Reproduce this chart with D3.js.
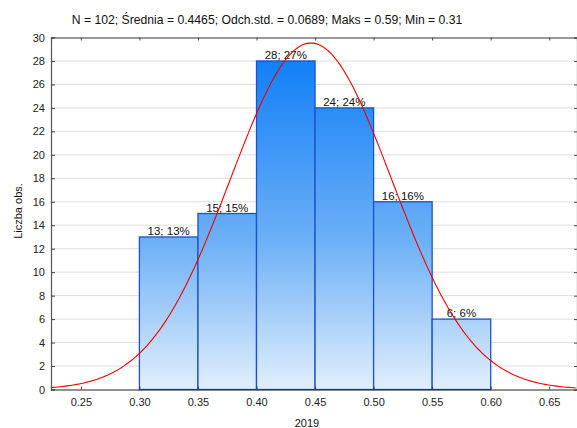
<!DOCTYPE html>
<html>
<head>
<meta charset="utf-8">
<script src="https://cdn.jsdelivr.net/npm/d3@7"></script>
<style>
  body { margin: 0; background: #fff; }
  svg { display: block; font-family: Arial, "Liberation Sans", sans-serif; }
</style>
</head>
<body>
<script>
// histogram data
const binStarts = [0.30, 0.35, 0.40, 0.45, 0.50, 0.55];
const binWidth = 0.05;
const counts = [13, 15, 28, 24, 16, 6];
const percents = [13, 15, 27, 24, 16, 6];
const xTicks = [0.25, 0.30, 0.35, 0.40, 0.45, 0.50, 0.55, 0.60, 0.65];
const yTicks = [0, 2, 4, 6, 8, 10, 12, 14, 16, 18, 20, 22, 24, 26, 28, 30];

// summary stats from the title, used for the fitted normal curve
const N = 102;
const mean = 0.4465;
const sd = 0.0689;

const svgWidth = 577;
const svgHeight = 428;
const margin = { left: 51, right: 0, top: 37.5, bottom: 38.5 };

const svg = d3.select('body').append('svg')
  .attr('width', svgWidth)
  .attr('height', svgHeight);

const x = d3.scaleLinear().domain([0.2245, 0.6737]).range([margin.left, svgWidth - margin.right]);
const y = d3.scaleLinear().domain([0, 30]).range([svgHeight - margin.bottom, margin.top]);

// gradient spans the whole plot height so shorter bars are lighter
const defs = svg.append('defs');
const grad = defs.append('linearGradient')
  .attr('id', 'barGrad')
  .attr('gradientUnits', 'userSpaceOnUse')
  .attr('x1', 0).attr('x2', 0)
  .attr('y1', y(28)).attr('y2', y(0));
grad.append('stop').attr('offset', '0%').attr('stop-color', '#1280f7');
grad.append('stop').attr('offset', '55%').attr('stop-color', '#6db0f6');
grad.append('stop').attr('offset', '100%').attr('stop-color', '#e2effd');

const clip = defs.append('clipPath').attr('id', 'plotClip');
clip.append('rect')
  .attr('x', margin.left).attr('y', margin.top)
  .attr('width', svgWidth - margin.left - margin.right)
  .attr('height', y(0) - margin.top);

// gridlines
svg.append('g')
  .selectAll('line')
  .data(yTicks.filter((d) => d > 0 && d < 30))
  .enter().append('line')
  .attr('x1', margin.left).attr('x2', svgWidth - 3)
  .attr('y1', (d) => y(d)).attr('y2', (d) => y(d))
  .attr('stroke', '#dedede')
  .attr('stroke-width', 1);

// bars
const bars = binStarts.map((b, i) => ({ x0: b, x1: b + binWidth, count: counts[i], pct: percents[i] }));

svg.append('g')
  .selectAll('rect')
  .data(bars)
  .enter().append('rect')
  .attr('x', (d) => x(d.x0))
  .attr('y', (d) => y(d.count))
  .attr('width', (d) => x(d.x1) - x(d.x0))
  .attr('height', (d) => y(0) - y(d.count))
  .attr('fill', 'url(#barGrad)')
  .attr('stroke', '#1d52c9')
  .attr('stroke-width', 1.3);

// bar labels
svg.append('g')
  .selectAll('text')
  .data(bars)
  .enter().append('text')
  .attr('x', (d) => (x(d.x0) + x(d.x1)) / 2)
  .attr('y', (d) => y(d.count) - 2)
  .attr('text-anchor', 'middle')
  .attr('font-size', 11.5)
  .attr('fill', '#111')
  .text((d) => `${d.count}; ${d.pct}%`);

// fitted normal curve
const curveX = d3.range(0.2245, 0.6740, 0.002);
const normal = (v) => N * binWidth * Math.exp(-0.5 * ((v - mean) / sd) ** 2) / (sd * Math.sqrt(2 * Math.PI));
svg.append('path')
  .datum(curveX)
  .attr('clip-path', 'url(#plotClip)')
  .attr('fill', 'none')
  .attr('stroke', '#f00000')
  .attr('stroke-width', 1.1)
  .attr('d', d3.line().x((d) => x(d)).y((d) => y(normal(d))));

// axes
const bottomAxis = svg.append('g')
  .attr('transform', `translate(0, ${y(0)})`)
  .call(d3.axisBottom(x).tickValues(xTicks).tickFormat(d3.format('.2f')).tickSize(-3).tickPadding(9));
const topAxis = svg.append('g')
  .attr('transform', `translate(0, ${y(30)})`)
  .call(d3.axisTop(x).tickValues(xTicks).tickFormat('').tickSize(-3));
const leftAxis = svg.append('g')
  .attr('transform', `translate(${margin.left}, 0)`)
  .call(d3.axisLeft(y).tickValues(yTicks).tickSize(-4).tickPadding(6));
const rightAxis = svg.append('g')
  .attr('transform', `translate(${svgWidth}, 0)`)
  .call(d3.axisRight(y).tickValues(yTicks).tickFormat('').tickSize(-3));

[bottomAxis, topAxis, leftAxis, rightAxis].forEach((a) => {
  a.select('.domain').attr('stroke', '#555').attr('stroke-width', 1.2);
  a.selectAll('.tick line').attr('stroke', '#444');
  a.selectAll('.tick text').attr('font-size', 11).attr('fill', '#222')
    .style('font-family', 'Arial, "Liberation Sans", sans-serif');
});
topAxis.select('.domain').attr('stroke', '#333');
bottomAxis.select('.domain').attr('stroke', '#222');

// title and axis labels
svg.append('text')
  .attr('x', 267).attr('y', 24)
  .attr('text-anchor', 'middle')
  .attr('font-size', 12.2)
  .attr('fill', '#111')
  .text('N = 102; Średnia = 0.4465; Odch.std. = 0.0689; Maks = 0.59; Min = 0.31');

svg.append('text')
  .attr('transform', `translate(22, 211) rotate(-90)`)
  .attr('text-anchor', 'middle')
  .attr('font-size', 11)
  .attr('fill', '#111')
  .text('Liczba obs.');

svg.append('text')
  .attr('x', 307).attr('y', 427)
  .attr('text-anchor', 'middle')
  .attr('font-size', 11)
  .attr('fill', '#111')
  .text('2019');
</script>
</body>
</html>
